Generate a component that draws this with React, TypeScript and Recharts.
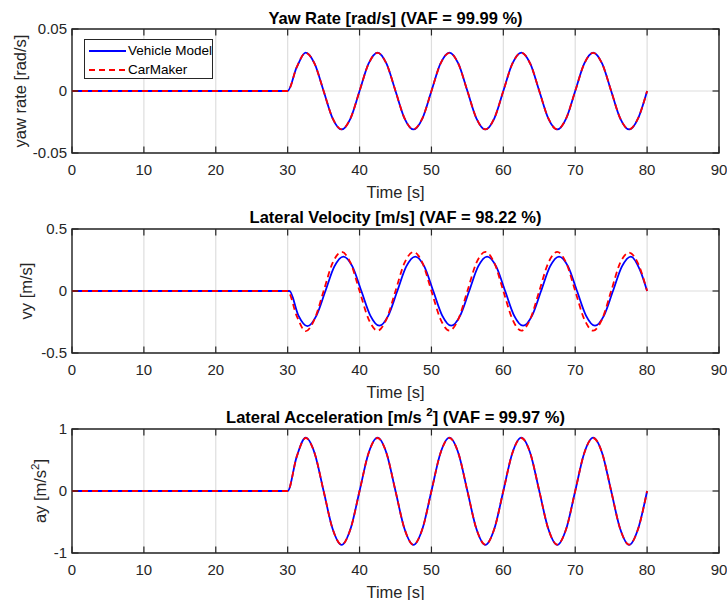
import { LineChart, Line, XAxis, YAxis, CartesianGrid, ReferenceArea, Legend } from "recharts";

// sample times (s) shared by most series
const TIME = [
  0, 30, 31.25, 32.5, 33.75, 35, 36.25, 37.5, 38.75, 40, 41.25, 42.5, 43.75, 45, 46.25, 47.5, 48.75, 50,
  51.25, 52.5, 53.75, 55, 56.25, 57.5, 58.75, 60, 61.25, 62.5, 63.75, 65, 66.25, 67.5, 68.75, 70, 71.25,
  72.5, 73.75, 75, 76.25, 77.5, 78.75, 80,
];

// vehicle model lateral velocity lags CarMaker slightly, so it has its own sample times
const VY_MODEL_TIME = [
  0, 30, 30.25, 31.5, 32.75, 34, 35.25, 36.5, 37.75, 39, 40.25, 41.5, 42.75, 44, 45.25, 46.5, 47.75, 49,
  50.25, 51.5, 52.75, 54, 55.25, 56.5, 57.75, 59, 60.25, 61.5, 62.75, 64, 65.25, 66.5, 67.75, 69, 70.25,
  71.5, 72.75, 74, 75.25, 76.5, 77.75, 79, 80,
];

const YAW_MODEL = [
  0, 0, 0.019, 0.031, 0.022, 0, -0.022, -0.031, -0.022, 0, 0.022, 0.031, 0.022, 0, -0.022, -0.031, -0.022,
  0, 0.022, 0.031, 0.022, 0, -0.022, -0.031, -0.022, 0, 0.022, 0.031, 0.022, 0, -0.022, -0.031, -0.022, 0,
  0.022, 0.031, 0.022, 0, -0.022, -0.031, -0.022, 0,
];
const YAW_CARMAKER = [
  0, 0, 0.019, 0.0308, 0.0219, 0, -0.0219, -0.0309, -0.0219, 0, 0.0219, 0.0308, 0.0219, 0, -0.0219, -0.0309,
  -0.0219, 0, 0.0219, 0.0308, 0.0219, 0, -0.0219, -0.0309, -0.0219, 0, 0.0219, 0.0308, 0.0219, 0, -0.0219,
  -0.0309, -0.0219, 0, 0.0219, 0.0308, 0.0219, 0, -0.0219, -0.0309, -0.0219, 0,
];

const VY_MODEL = [
  0, 0, 0, -0.198, -0.284, -0.198, 0, 0.198, 0.278, 0.198, 0, -0.198, -0.28, -0.198, 0, 0.198, 0.278,
  0.198, 0, -0.198, -0.28, -0.198, 0, 0.198, 0.278, 0.198, 0, -0.198, -0.28, -0.198, 0, 0.198, 0.278,
  0.198, 0, -0.198, -0.28, -0.198, 0, 0.198, 0.278, 0.17, 0,
];
const VY_CARMAKER = [
  0, 0, -0.2, -0.324, -0.226, 0, 0.226, 0.315, 0.226, 0, -0.226, -0.32, -0.226, 0, 0.226, 0.315, 0.226, 0,
  -0.226, -0.32, -0.226, 0, 0.226, 0.315, 0.226, 0, -0.226, -0.32, -0.226, 0, 0.226, 0.315, 0.226, 0,
  -0.226, -0.32, -0.226, 0, 0.226, 0.31, 0.22, 0,
];

const AY_MODEL = [
  0, 0, 0.55, 0.86, 0.61, 0, -0.61, -0.87, -0.61, 0, 0.61, 0.86, 0.61, 0, -0.61, -0.87, -0.61, 0, 0.61,
  0.86, 0.61, 0, -0.61, -0.87, -0.61, 0, 0.61, 0.86, 0.61, 0, -0.61, -0.87, -0.61, 0, 0.61, 0.86, 0.61, 0,
  -0.61, -0.87, -0.61, 0,
];
const AY_CARMAKER = [
  0, 0, 0.55, 0.855, 0.61, 0, -0.61, -0.865, -0.61, 0, 0.61, 0.855, 0.61, 0, -0.61, -0.865, -0.61, 0,
  0.61, 0.855, 0.61, 0, -0.61, -0.865, -0.61, 0, 0.61, 0.855, 0.61, 0, -0.61, -0.865, -0.61, 0, 0.61,
  0.855, 0.61, 0, -0.61, -0.865, -0.61, 0,
];

const X_TICKS = [0, 10, 20, 30, 40, 50, 60, 70, 80, 90];
const YAW_TICKS = [-0.05, 0, 0.05];
const VY_TICKS = [-0.5, 0, 0.5];
const AY_TICKS = [-1, 0, 1];

const FONT = '"Liberation Sans", Arial, Helvetica, sans-serif';
const INK = "#262626";
const GRID = "#dedede";
const BLUE = "#0000ff";
const RED = "#ff0000";
const DASH = "6 4";
const PLOT_W = 647;
const PLOT_H = 124;
const TICK_LEN = 6.5;

const LEGEND_ITEMS = [
  { name: "Vehicle Model", color: BLUE, dash: undefined },
  { name: "CarMaker", color: RED, dash: DASH },
];

type Pt = { t: number; v: number };
const series = (times: number[], values: number[]): Pt[] => times.map((t, i) => ({ t, v: values[i] }));

function XTick({ x, y, payload }: any) {
  return (
    <g>
      <line x1={x} x2={x} y1={y} y2={y - TICK_LEN} stroke={INK} strokeWidth={1.2} />
      <line x1={x} x2={x} y1={y - PLOT_H} y2={y - PLOT_H + TICK_LEN} stroke={INK} strokeWidth={1.2} />
      <text x={x} y={y + 22} textAnchor="middle" fill={INK} fontSize={15} fontFamily={FONT}>
        {payload.value}
      </text>
    </g>
  );
}

function YTick({ x, y, payload }: any) {
  return (
    <g>
      <line x1={x} x2={x + TICK_LEN} y1={y} y2={y} stroke={INK} strokeWidth={1.2} />
      <line x1={x + PLOT_W - TICK_LEN} x2={x + PLOT_W} y1={y} y2={y} stroke={INK} strokeWidth={1.2} />
      <text x={x - 5} y={y + 5.3} textAnchor="end" fill={INK} fontSize={15} fontFamily={FONT}>
        {payload.value}
      </text>
    </g>
  );
}

const timeLabel = (props: any) => {
  const vb = props.viewBox || { x: 72, y: 153, width: PLOT_W, height: 47 };
  return (
    <text x={vb.x + vb.width / 2} y={vb.y + 44.5} textAnchor="middle" fill={INK} fontSize={16.5} fontFamily={FONT}>
      Time [s]
    </text>
  );
};

const yLabel = (baseX: number, content: React.ReactNode) => (props: any) => {
  const vb = props.viewBox || { x: 0, y: 29, width: 72, height: PLOT_H };
  const cy = vb.y + vb.height / 2;
  return (
    <text
      x={baseX}
      y={cy}
      transform={`rotate(-90 ${baseX} ${cy})`}
      textAnchor="middle"
      fill={INK}
      fontSize={16.5}
      fontFamily={FONT}
    >
      {content}
    </text>
  );
};

function LegendBox() {
  return (
    <div
      style={{
        width: 127,
        height: 38,
        border: `1.3px solid ${INK}`,
        background: "#fff",
        fontFamily: FONT,
        fontSize: 13.5,
        color: "#000",
        whiteSpace: "nowrap",
      }}
    >
      {LEGEND_ITEMS.map((item, i) => (
        <div key={item.name} style={{ display: "flex", alignItems: "center", height: 19, marginTop: i === 0 ? 1 : 0 }}>
          <svg width={40} height={10} style={{ marginLeft: 3, flex: "none" }}>
            <line x1={1} x2={38} y1={5} y2={5} stroke={item.color} strokeWidth={2} strokeDasharray={item.dash} />
          </svg>
          <span>{item.name}</span>
        </div>
      ))}
    </div>
  );
}

type PanelProps = {
  top: number;
  model: Pt[];
  carmaker: Pt[];
  domain: [number, number];
  ticks: number[];
  label: (props: any) => React.ReactNode;
  legend?: boolean;
};

function Panel({ top, model, carmaker, domain, ticks, label, legend }: PanelProps) {
  return (
    <div style={{ position: "absolute", left: 0, top }}>
      <LineChart width={727} height={215} margin={{ top: 29, right: 8, bottom: 15, left: 0 }}>
        <CartesianGrid stroke={GRID} strokeWidth={1.2} />
        <XAxis
          type="number"
          dataKey="t"
          domain={[0, 90]}
          ticks={X_TICKS}
          interval={0}
          height={47}
          axisLine={false}
          tickLine={false}
          tickSize={0}
          tickMargin={0}
          tick={XTick}
          label={timeLabel}
        />
        <YAxis
          type="number"
          domain={domain}
          ticks={ticks}
          interval={0}
          width={72}
          axisLine={false}
          tickLine={false}
          tickSize={0}
          tickMargin={0}
          tick={YTick}
          label={label}
        />
        <ReferenceArea
          x1={0}
          x2={90}
          y1={domain[0]}
          y2={domain[1]}
          fill="none"
          fillOpacity={0}
          stroke={INK}
          strokeWidth={1.4}
        />
        {legend && (
          <Legend
            layout="vertical"
            align="center"
            verticalAlign="middle"
            content={LegendBox}
            wrapperStyle={{ left: 84, top: 39, width: "auto", height: "auto" }}
          />
        )}
        <Line
          data={model}
          dataKey="v"
          name="Vehicle Model"
          type="monotone"
          stroke={BLUE}
          strokeWidth={1.8}
          dot={false}
          activeDot={false}
          isAnimationActive={false}
        />
        <Line
          data={carmaker}
          dataKey="v"
          name="CarMaker"
          type="monotone"
          stroke={RED}
          strokeWidth={1.8}
          strokeDasharray={DASH}
          dot={false}
          activeDot={false}
          isAnimationActive={false}
        />
      </LineChart>
    </div>
  );
}

const TITLE_STYLE = { fontFamily: FONT, fontSize: 16.5, fontWeight: 700, fill: "#000" } as const;

export default function App() {
  return (
    <div
      style={{
        position: "absolute",
        left: 0,
        top: 0,
        width: 727,
        height: 600,
        overflow: "hidden",
        background: "#fff",
      }}
    >
      <Panel
        top={0}
        model={series(TIME, YAW_MODEL)}
        carmaker={series(TIME, YAW_CARMAKER)}
        domain={[-0.05, 0.05]}
        ticks={YAW_TICKS}
        label={yLabel(26, "yaw rate [rad/s]")}
        legend
      />
      <Panel
        top={200}
        model={series(VY_MODEL_TIME, VY_MODEL)}
        carmaker={series(TIME, VY_CARMAKER)}
        domain={[-0.5, 0.5]}
        ticks={VY_TICKS}
        label={yLabel(32, "vy [m/s]")}
      />
      <Panel
        top={400}
        model={series(TIME, AY_MODEL)}
        carmaker={series(TIME, AY_CARMAKER)}
        domain={[-1, 1]}
        ticks={AY_TICKS}
        label={yLabel(46, [
          "ay [m/s",
          <tspan key="sup" fontSize={11.5} dy={-7}>
            2
          </tspan>,
          <tspan key="rest" dy={7}>
            ]
          </tspan>,
        ])}
      />
      <svg width={727} height={600} style={{ position: "absolute", left: 0, top: 0, pointerEvents: "none" }}>
        <text x={395.5} y={23.5} textAnchor="middle" {...TITLE_STYLE}>
          Yaw Rate [rad/s] (VAF = 99.99 %)
        </text>
        <text x={395.5} y={223} textAnchor="middle" {...TITLE_STYLE}>
          Lateral Velocity [m/s] (VAF = 98.22 %)
        </text>
        <text x={395.5} y={423} textAnchor="middle" {...TITLE_STYLE}>
          Lateral Acceleration [m/s{" "}
          <tspan fontSize={11.5} dy={-7}>
            2
          </tspan>
          <tspan dy={7}>] (VAF = 99.97 %)</tspan>
        </text>
      </svg>
    </div>
  );
}
